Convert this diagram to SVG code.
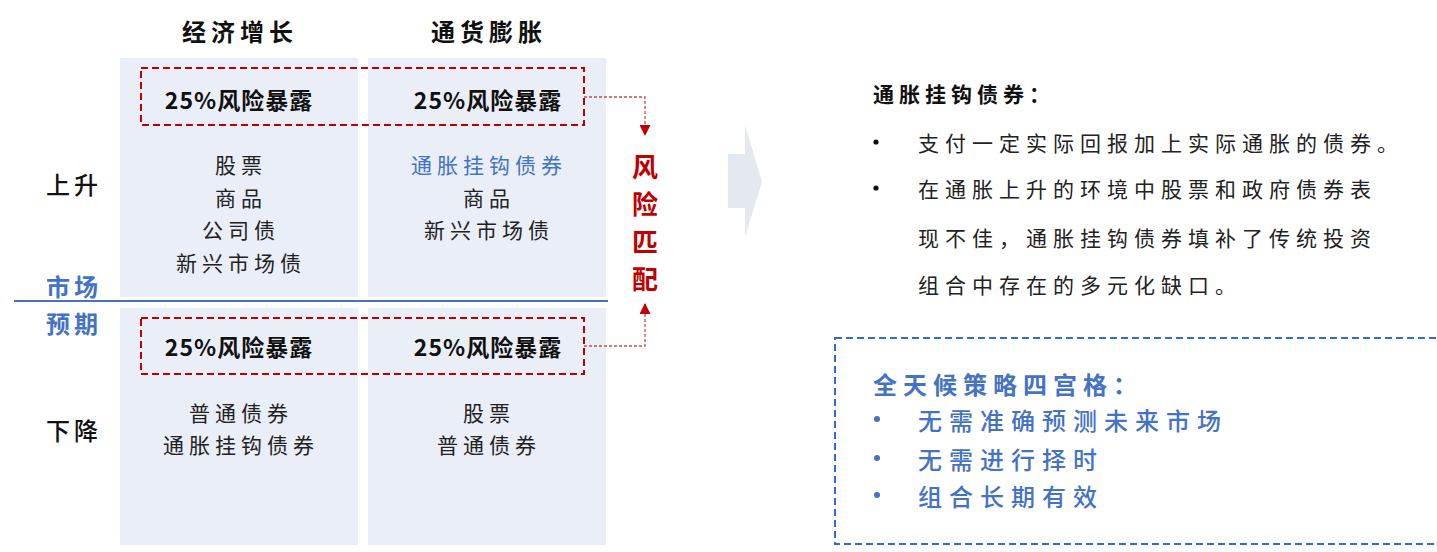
<svg xmlns="http://www.w3.org/2000/svg" width="1437" height="552" viewBox="0 0 1437 552">
<style>
text{font-family:"Noto Sans CJK SC","Liberation Sans",sans-serif;dominant-baseline:central}
.hd{font-size:24px;font-weight:bold;fill:#111;text-anchor:middle;letter-spacing:5px}
.rl{font-size:24px;font-weight:500;fill:#111;text-anchor:middle;letter-spacing:4px}
.bl{font-size:24px;fill:#4472c4;text-anchor:middle;letter-spacing:4px;font-weight:bold}
.it{font-size:21px;fill:#222;text-anchor:middle;letter-spacing:5px}
.itb{font-size:21px;fill:#4472c4;text-anchor:middle;letter-spacing:5px}
.rk{font-size:23px;font-weight:bold;fill:#111;text-anchor:middle;letter-spacing:1px}
.rm{font-size:26px;font-weight:bold;fill:#c00000;text-anchor:middle}
.panel{fill:#e9eef7}
.rbox{fill:none;stroke:#c00000;stroke-width:2;stroke-dasharray:7 4}
.conn{fill:none;stroke:#c0504d;stroke-width:1.3;stroke-dasharray:3 2}
.t1{font-size:21px;font-weight:bold;fill:#111;letter-spacing:5px}
.t2{font-size:21px;fill:#222;letter-spacing:6px}
.t3{font-size:24px;font-weight:bold;fill:#4472c4;letter-spacing:6px}
.t4{font-size:24px;font-weight:500;fill:#4472c4;letter-spacing:7px}
</style>
<defs>
<marker id="ah" viewBox="0 0 10 10" refX="10" refY="5" markerWidth="11" markerHeight="11" markerUnits="userSpaceOnUse" orient="auto">
<path d="M0,0 L10,5 L0,10 Z" fill="#c00000"/>
</marker>
</defs>

<g id="headers">
<text class="hd" x="240" y="30">经济增长</text>
<text class="hd" x="489" y="30">通货膨胀</text>
</g>

<g id="panels">
<rect class="panel" x="120" y="58" width="238" height="239"/>
<rect class="panel" x="368" y="58" width="238" height="239"/>
<rect class="panel" x="120" y="308" width="238" height="237"/>
<rect class="panel" x="368" y="308" width="238" height="237"/>
</g>

<g id="axis">
<line x1="14" y1="301" x2="608" y2="301" stroke="#4a72b8" stroke-width="2"/>
<text class="rl" x="74" y="183">上升</text>
<text class="rl" x="74" y="429">下降</text>
<text class="bl" x="74" y="285">市场</text>
<text class="bl" x="74" y="322">预期</text>
</g>

<g id="box-top">
<rect class="rbox" x="141" y="68" width="443" height="57"/>
<text class="rk" x="239" y="99">25%风险暴露</text>
<text class="rk" x="488" y="99">25%风险暴露</text>
</g>

<g id="box-bottom">
<rect class="rbox" x="141" y="318" width="443" height="56"/>
<text class="rk" x="239" y="346">25%风险暴露</text>
<text class="rk" x="488" y="346">25%风险暴露</text>
</g>

<g id="cell-growth-up">
<text class="it" x="241" y="164">股票</text>
<text class="it" x="241" y="197">商品</text>
<text class="it" x="241" y="229">公司债</text>
<text class="it" x="241" y="262">新兴市场债</text>
</g>

<g id="cell-inflation-up">
<text class="itb" x="489" y="164">通胀挂钩债券</text>
<text class="it" x="489" y="197">商品</text>
<text class="it" x="489" y="229">新兴市场债</text>
</g>

<g id="cell-growth-down">
<text class="it" x="241" y="412">普通债券</text>
<text class="it" x="241" y="444">通胀挂钩债券</text>
</g>

<g id="cell-inflation-down">
<text class="it" x="489" y="412">股票</text>
<text class="it" x="489" y="444">普通债券</text>
</g>

<g id="risk-match">
<text class="rm" x="645" y="165">风</text>
<text class="rm" x="645" y="202">险</text>
<text class="rm" x="645" y="240">匹</text>
<text class="rm" x="645" y="277">配</text>
</g>

<g id="connectors">
<path class="conn" d="M584,97 H645 V136" marker-end="url(#ah)"/>
<path class="conn" d="M584,346 H645 V303" marker-end="url(#ah)"/>
</g>

<g id="chevron">
<polygon points="728,154 745,154 745,125 762,182 745,237 745,208 728,208" fill="#e4e8ef"/>
</g>

<g id="tips-text">
<text class="t1" x="873" y="93">通胀挂钩债券：</text>
<circle cx="876" cy="142" r="2.6" fill="#111"/>
<text class="t2" x="918" y="142">支付一定实际回报加上实际通胀的债券。</text>
<circle cx="876" cy="188" r="2.6" fill="#111"/>
<text class="t2" x="918" y="188">在通胀上升的环境中股票和政府债券表</text>
<text class="t2" x="918" y="237">现不佳，通胀挂钩债券填补了传统投资</text>
<text class="t2" x="918" y="284">组合中存在的多元化缺口。</text>
</g>

<g id="all-weather">
<rect x="835" y="338" width="620" height="206" fill="none" stroke="#2f6bd0" stroke-width="2" stroke-dasharray="7 4"/>
<text class="t3" x="873" y="383">全天候策略四宫格：</text>
<circle cx="877" cy="419" r="3" fill="#4472c4"/>
<text class="t4" x="918" y="419">无需准确预测未来市场</text>
<circle cx="877" cy="458" r="3" fill="#4472c4"/>
<text class="t4" x="918" y="458">无需进行择时</text>
<circle cx="877" cy="495" r="3" fill="#4472c4"/>
<text class="t4" x="918" y="495">组合长期有效</text>
</g>
</svg>
